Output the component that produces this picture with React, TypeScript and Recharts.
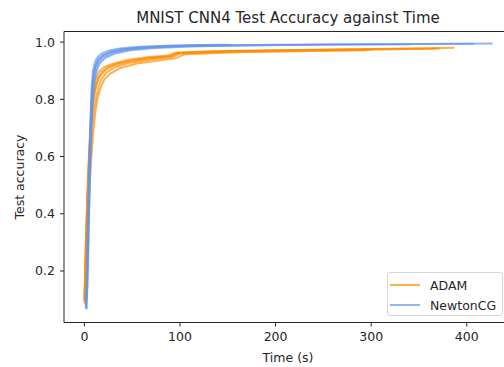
import { LineChart, Line, XAxis, YAxis, ReferenceLine } from "recharts"

// ADAM runs: [time (s), test accuracy]
const adamRun1 = [
  [0, 0.1], [1, 0.24], [2, 0.36], [3, 0.46], [4, 0.55], [5, 0.63], [6.5, 0.72], [8, 0.78],
  [10, 0.83], [12, 0.87], [15, 0.895], [20, 0.912], [30, 0.925], [45, 0.938], [65, 0.947],
  [88, 0.953], [95, 0.963], [130, 0.968], [200, 0.972], [300, 0.976], [387, 0.98],
]
const adamRun2 = [
  [0, 0.095], [1, 0.22], [2, 0.34], [3, 0.44], [4, 0.52], [5, 0.6], [6.5, 0.69], [8, 0.755],
  [10, 0.81], [12.5, 0.85], [16, 0.88], [21, 0.9], [30, 0.917], [45, 0.931], [65, 0.942],
  [90, 0.95], [97, 0.961], [140, 0.967], [220, 0.971], [300, 0.974], [372, 0.977],
]
const adamRun3 = [
  [0.5, 0.09], [1.5, 0.2], [2.5, 0.31], [3.5, 0.41], [5, 0.53], [6.5, 0.62], [8, 0.69],
  [10, 0.76], [12.5, 0.81], [15, 0.845], [18, 0.87], [23, 0.893], [32, 0.912], [48, 0.928],
  [70, 0.94], [92, 0.948], [100, 0.96], [150, 0.966], [230, 0.97], [300, 0.973],
]
const adamRun4 = [
  [0.3, 0.085], [1.3, 0.18], [2.5, 0.29], [4, 0.4], [5.5, 0.5], [7, 0.58], [9, 0.67],
  [11, 0.74], [13.5, 0.8], [17, 0.84], [21, 0.87], [27, 0.89], [38, 0.91], [55, 0.925],
  [75, 0.935], [95, 0.943], [105, 0.957], [160, 0.964], [240, 0.969], [295, 0.971],
]
const adamRun5 = [
  [0.2, 0.1], [1.2, 0.23], [2.2, 0.35], [3.2, 0.45], [4.2, 0.54], [5.5, 0.63], [7, 0.71],
  [9, 0.78], [11, 0.83], [14, 0.87], [18, 0.895], [24, 0.912], [35, 0.926], [50, 0.937],
  [72, 0.946], [90, 0.952], [98, 0.962], [150, 0.968], [250, 0.973], [330, 0.976], [368, 0.977],
]

// NewtonCG runs
const newtonRun1 = [
  [1.5, 0.07], [2.5, 0.16], [3.5, 0.3], [4.5, 0.47], [5.5, 0.62], [6.5, 0.75], [7.5, 0.84],
  [9, 0.9], [11, 0.93], [14, 0.948], [18, 0.96], [25, 0.97], [35, 0.977], [50, 0.982],
  [70, 0.986], [100, 0.989], [150, 0.991],
]
const newtonRun2 = [
  [1.8, 0.08], [2.8, 0.18], [3.8, 0.32], [4.8, 0.48], [5.8, 0.63], [7, 0.76], [8.5, 0.85],
  [10, 0.895], [12, 0.92], [15, 0.94], [20, 0.955], [28, 0.966], [40, 0.974], [60, 0.981],
  [90, 0.986], [120, 0.988], [155, 0.99],
]
const newtonRun3 = [
  [2, 0.07], [3, 0.15], [4, 0.28], [5, 0.43], [6, 0.58], [7, 0.7], [8.5, 0.81], [10, 0.87],
  [12, 0.905], [15, 0.93], [20, 0.948], [30, 0.963], [45, 0.973], [70, 0.981], [100, 0.985],
  [150, 0.988], [250, 0.991], [341, 0.992],
]
const newtonRun4 = [
  [1.6, 0.075], [2.6, 0.17], [3.6, 0.31], [4.6, 0.46], [5.6, 0.6], [6.8, 0.73], [8, 0.82],
  [9.5, 0.88], [11.5, 0.915], [14, 0.937], [19, 0.953], [26, 0.965], [38, 0.974], [55, 0.98],
  [80, 0.985], [120, 0.988], [200, 0.991], [300, 0.993], [407, 0.994],
]
const newtonRun5 = [
  [2.2, 0.065], [3.2, 0.14], [4.2, 0.27], [5.2, 0.42], [6.2, 0.56], [7.4, 0.69], [8.8, 0.79],
  [10.5, 0.86], [13, 0.9], [16, 0.925], [22, 0.945], [32, 0.96], [48, 0.971], [75, 0.979],
  [110, 0.984], [160, 0.988], [260, 0.991], [350, 0.993], [427, 0.995],
]

const adamRuns = [adamRun1, adamRun2, adamRun3, adamRun4, adamRun5]
const newtonRuns = [newtonRun1, newtonRun2, newtonRun3, newtonRun4, newtonRun5]

const xTicks = [0, 100, 200, 300, 400]
const yTicks = [0.2, 0.4, 0.6, 0.8, 1.0]
const yDomain = [0.02, 1.037]

const ADAM_COLOR = "#FF8C00"
const NEWTON_COLOR = "#6495ED"
const INK = "#262626"
const FONT = "DejaVu Sans"

const toPoints = (run: number[][]) => run.map(([t, acc]) => ({ t, acc }))

const tickStyle = { fill: INK, fontSize: 12.5, fontFamily: FONT }

export default function App() {
  return (
    <div
      style={{
        position: "absolute",
        left: 0,
        top: 0,
        width: 504,
        height: 367,
        overflow: "hidden",
        background: "#fff",
        fontFamily: FONT,
      }}
    >
      <div
        style={{
          position: "absolute",
          left: 0,
          top: 10.6,
          width: 576,
          textAlign: "center",
          fontSize: 15,
          lineHeight: "15px",
          color: INK,
          whiteSpace: "nowrap",
        }}
      >
        MNIST CNN4 Test Accuracy against Time
      </div>

      <LineChart width={540} height={367} margin={{ top: 31.5, right: 28, bottom: 14.5, left: 0 }}>
        <XAxis
          type="number"
          dataKey="t"
          domain={[-21.3, 447.3]}
          allowDataOverflow
          ticks={xTicks}
          interval={0}
          height={30}
          tickSize={4}
          tickMargin={6}
          tick={tickStyle}
          tickLine={{ stroke: INK }}
          axisLine={{ stroke: INK, strokeWidth: 1 }}
          label={{
            content: () => (
              <text x={288} y={357} textAnchor="middle" dominantBaseline="central" fill={INK} fontSize={12.5} fontFamily={FONT}>
                Time (s)
              </text>
            ),
          }}
        />
        <YAxis
          type="number"
          domain={yDomain}
          allowDataOverflow
          ticks={yTicks}
          interval={0}
          width={64}
          tickSize={4}
          tickMargin={5}
          tick={tickStyle}
          tickFormatter={(v: number) => v.toFixed(1)}
          tickLine={{ stroke: INK }}
          axisLine={{ stroke: INK, strokeWidth: 1 }}
          label={{
            content: () => (
              <text
                x={19}
                y={177}
                transform="rotate(-90, 19, 177)"
                textAnchor="middle"
                dominantBaseline="central"
                fill={INK}
                fontSize={12.5}
                fontFamily={FONT}
              >
                Test accuracy
              </text>
            ),
          }}
        />

        {/* top spine */}
        <ReferenceLine y={yDomain[1]} stroke={INK} strokeWidth={1} ifOverflow="visible" />

        {adamRuns.map((run, i) => (
          <Line
            key={`adam-${i}`}
            data={toPoints(run)}
            dataKey="acc"
            type="linear"
            stroke={ADAM_COLOR}
            strokeOpacity={0.7}
            strokeWidth={1.9}
            dot={false}
            activeDot={false}
            isAnimationActive={false}
          />
        ))}
        {newtonRuns.map((run, i) => (
          <Line
            key={`newton-${i}`}
            data={toPoints(run)}
            dataKey="acc"
            type="linear"
            stroke={NEWTON_COLOR}
            strokeOpacity={0.7}
            strokeWidth={1.9}
            dot={false}
            activeDot={false}
            isAnimationActive={false}
          />
        ))}
      </LineChart>

      {/* legend, matplotlib style */}
      <div
        style={{
          position: "absolute",
          left: 387,
          top: 272,
          width: 114,
          height: 42,
          border: "1px solid #d6d6d6",
          borderRadius: 3,
          background: "rgba(255,255,255,0.8)",
        }}
      >
        {[
          { name: "ADAM", color: ADAM_COLOR },
          { name: "NewtonCG", color: NEWTON_COLOR },
        ].map((item, i) => (
          <div
            key={item.name}
            style={{
              position: "absolute",
              left: 0,
              top: 2 + i * 20,
              height: 20,
              display: "flex",
              alignItems: "center",
              whiteSpace: "nowrap",
            }}
          >
            <svg width={32} height={20} style={{ marginLeft: 2 }}>
              <line x1={0} y1={10} x2={30} y2={10} stroke={item.color} strokeOpacity={0.7} strokeWidth={2} />
            </svg>
            <span style={{ marginLeft: 8, fontSize: 12.5, color: INK }}>{item.name}</span>
          </div>
        ))}
      </div>
    </div>
  )
}
